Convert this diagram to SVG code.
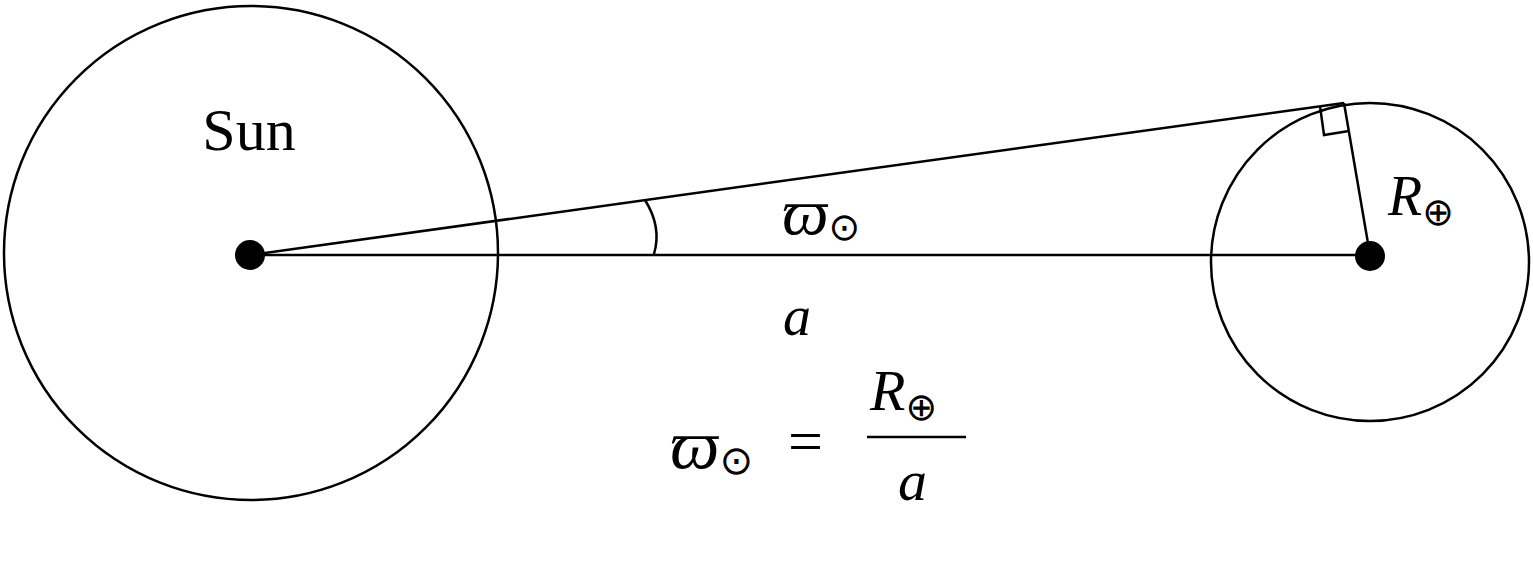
<svg xmlns="http://www.w3.org/2000/svg" width="1533" height="586" viewBox="0 0 1533 586">
<style>
.l{fill:none;stroke:#000;stroke-width:2.5}
.t{font-family:"Liberation Serif","DejaVu Serif",serif;fill:#000}
.i{font-style:italic}
.s{font-family:"DejaVu Sans",sans-serif;font-style:normal}
</style>
<rect width="1533" height="586" fill="#fff"/>
<g id="sun"><circle class="l" cx="251" cy="253" r="247"/><circle cx="250" cy="255" r="15"/>
<text class="t" x="249" y="150" font-size="60" text-anchor="middle">Sun</text></g>
<g id="earth"><circle class="l" cx="1370" cy="262" r="159"/><circle cx="1370" cy="256" r="15"/>
<text class="t" x="1388" y="215" font-size="56"><tspan class="i">R</tspan><tspan class="s" font-size="38" dy="10">⊕</tspan></text></g>
<g id="connectors">
<line class="l" x1="250" y1="255" x2="1370" y2="255"/>
<line class="l" x1="250" y1="255" x2="1344" y2="103"/>
<line class="l" x1="1344" y1="103" x2="1370" y2="255"/>
<polyline class="l" points="1320,106 1324,135 1349,131"/>
<path class="l" d="M645,200 Q662,227 654,254"/>
</g>
<g id="labels">
<text class="t i" x="782" y="234" font-size="66">ϖ<tspan class="s" font-size="38" dy="6">⊙</tspan></text>
<text class="t i" x="783" y="335" font-size="56">a</text>
<text class="t i" x="670" y="468" font-size="70">ϖ<tspan class="s" font-size="40" dy="6">⊙</tspan></text>
<text class="t" x="788" y="462" font-size="62">=</text>
<text class="t" x="870" y="410" font-size="58"><tspan class="i">R</tspan><tspan class="s" font-size="38" dy="10">⊕</tspan></text>
<line class="l" x1="867" y1="437" x2="966" y2="437"/>
<text class="t i" x="898" y="500" font-size="58">a</text>
</g>
</svg>
